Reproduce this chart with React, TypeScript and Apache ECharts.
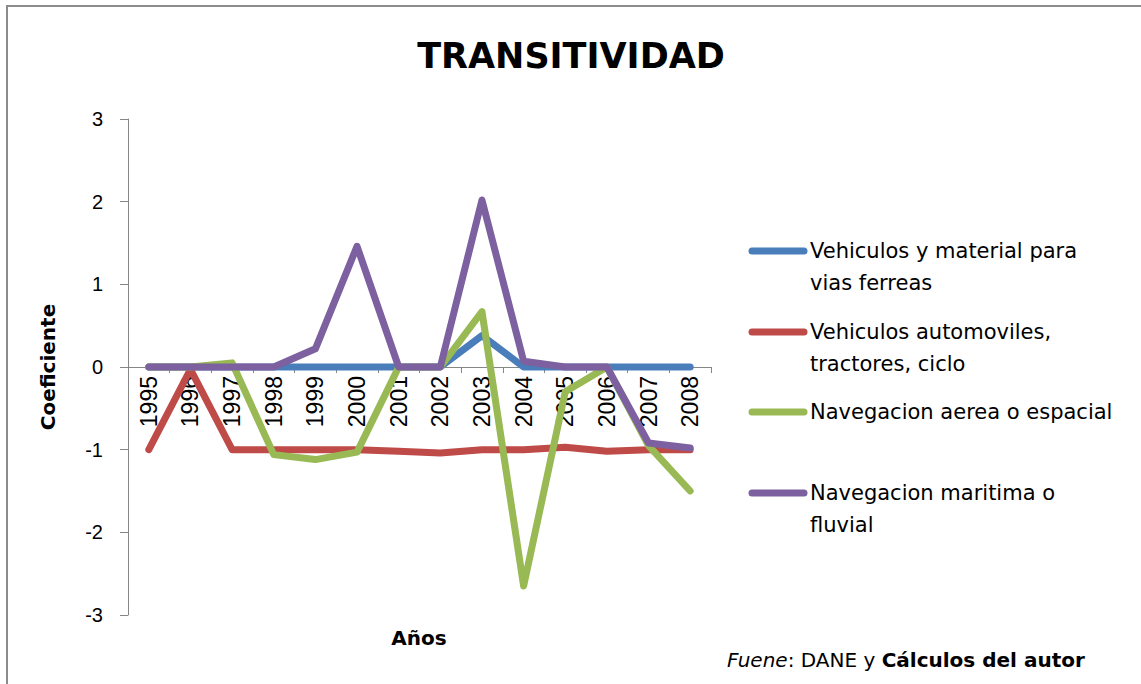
import React, { useEffect, useRef } from 'react';
import * as echarts from 'echarts';

const years = ['1995', '1996', '1997', '1998', '1999', '2000', '2001', '2002', '2003', '2004', '2005', '2006', '2007', '2008'];

const seriesNames = [
  'Vehiculos y material para vias ferreas',
  'Vehiculos automoviles, tractores, ciclo',
  'Navegacion aerea o espacial',
  'Navegacion maritima o fluvial',
];

const legendLines = [
  ['Vehiculos y material para', 'vias ferreas'],
  ['Vehiculos automoviles,', 'tractores, ciclo'],
  ['Navegacion aerea o espacial'],
  ['Navegacion maritima o', 'fluvial'],
];

const viasFerreas = [0, 0, 0, 0, 0, 0, 0, 0, 0.38, 0, 0, 0, 0, 0];
const automoviles = [-1, -0.03, -1, -1, -1, -1, -1.02, -1.04, -1.0, -1.0, -0.97, -1.02, -1.0, -1.0];
const aereaEspacial = [0, 0, 0.05, -1.06, -1.12, -1.03, 0, 0, 0.67, -2.65, -0.3, 0, -0.95, -1.5];
const maritimaFluvial = [0, 0, 0, 0, 0.22, 1.46, 0, 0, 2.02, 0.07, 0, 0, -0.92, -0.98];

const yTicks = { min: -3, max: 3, interval: 1 };

const colors = ['#4a7ebb', '#be4b48', '#98b954', '#7d60a0'];

export default function App() {
  const ref = useRef<HTMLDivElement>(null);

  useEffect(() => {
    const chart = echarts.init(ref.current!, null, { renderer: 'svg' });
    const dataSets = [viasFerreas, automoviles, aereaEspacial, maritimaFluvial];
    const legendY = [251, 332, 412, 493];
    const gridTop = 119;
    const gridBottom = 69;
    const gridHeight = 684 - gridTop - gridBottom;
    // move the category axis up to the value 0 (middle of the symmetric range)
    const zeroOffset = -gridHeight * (0 - yTicks.min) / (yTicks.max - yTicks.min);

    const graphics: any[] = [
      { type: 'line', shape: { x1: 6, y1: 6, x2: 1141, y2: 6 }, style: { stroke: '#8c8c8c', lineWidth: 2 }, silent: true },
      { type: 'line', shape: { x1: 7, y1: 5, x2: 7, y2: 684 }, style: { stroke: '#8c8c8c', lineWidth: 2 }, silent: true },
      {
        type: 'text',
        x: 571,
        y: 56,
        style: {
          text: 'TRANSITIVIDAD',
          fontSize: 35,
          fontWeight: 'bold',
          fontFamily: 'DejaVu Sans',
          fill: '#000',
          align: 'center',
          verticalAlign: 'middle',
        },
      },
      {
        type: 'text',
        x: 419,
        y: 638,
        style: {
          text: 'Años',
          fontSize: 20,
          fontWeight: 'bold',
          fontFamily: 'DejaVu Sans',
          fill: '#000',
          align: 'center',
          verticalAlign: 'middle',
        },
      },
      {
        type: 'text',
        x: 727,
        y: 660,
        style: {
          text: '{i|Fuene}: DANE y {b|Cálculos del autor}',
          fontSize: 20,
          fontFamily: 'DejaVu Sans',
          fill: '#000',
          verticalAlign: 'middle',
          rich: {
            i: { fontStyle: 'italic', fontSize: 20, fontFamily: 'DejaVu Sans', fill: '#000' },
            b: { fontWeight: 'bold', fontSize: 20, fontFamily: 'DejaVu Sans', fill: '#000' },
          },
        },
      },
    ];

    legendLines.forEach((lines, i) => {
      const y = legendY[i];
      graphics.push({
        type: 'line',
        shape: { x1: 752, y1: y, x2: 804, y2: y },
        style: { stroke: colors[i], lineWidth: 7, lineCap: 'round' },
      });
      graphics.push({
        type: 'text',
        x: 810,
        y: y - 16,
        style: {
          text: lines.join('\n'),
          fontSize: 21,
          fontFamily: 'DejaVu Sans',
          fill: '#000',
          lineHeight: 32,
          verticalAlign: 'top',
        },
      });
    });

    chart.setOption({
      animation: false,
      backgroundColor: '#fff',
      grid: { left: 128, right: 430, top: gridTop, bottom: gridBottom, containLabel: false, outerBoundsMode: 'none' },
      xAxis: {
        type: 'category',
        data: years,
        boundaryGap: true,
        position: 'bottom',
        offset: zeroOffset,
        axisLine: { onZero: false, lineStyle: { color: '#868686', width: 1 } },
        axisTick: { show: true, length: 6, alignWithLabel: false, lineStyle: { color: '#868686' } },
        axisLabel: {
          rotate: 90,
          margin: 9,
          interval: 0,
          fontSize: 23,
          fontFamily: 'Liberation Sans',
          color: '#000',
        },
        splitLine: { show: false },
      },
      yAxis: {
        type: 'value',
        min: yTicks.min,
        max: yTicks.max,
        interval: yTicks.interval,
        name: 'Coeficiente',
        nameLocation: 'middle',
        nameGap: 70,
        nameRotate: 90,
        nameTextStyle: { fontSize: 20, fontWeight: 'bold', fontFamily: 'DejaVu Sans', color: '#000' },
        axisLine: { show: true, lineStyle: { color: '#868686', width: 1 } },
        axisTick: { show: true, length: 8, lineStyle: { color: '#868686' } },
        axisLabel: { margin: 25, fontSize: 20, fontFamily: 'Liberation Sans', color: '#000' },
        splitLine: { show: false },
      },
      series: dataSets.map((d, i) => ({
        name: seriesNames[i],
        type: 'line',
        data: d,
        showSymbol: false,
        symbol: 'none',
        lineStyle: { color: colors[i], width: 7, cap: 'round', join: 'round' },
        itemStyle: { color: colors[i] },
        z: 2 + i,
      })),
      graphic: graphics,
    });

    return () => chart.dispose();
  }, []);

  return (
    <div
      ref={ref}
      style={{ position: 'fixed', left: 0, top: 0, width: 1141, height: 684, background: '#fff' }}
    />
  );
}
